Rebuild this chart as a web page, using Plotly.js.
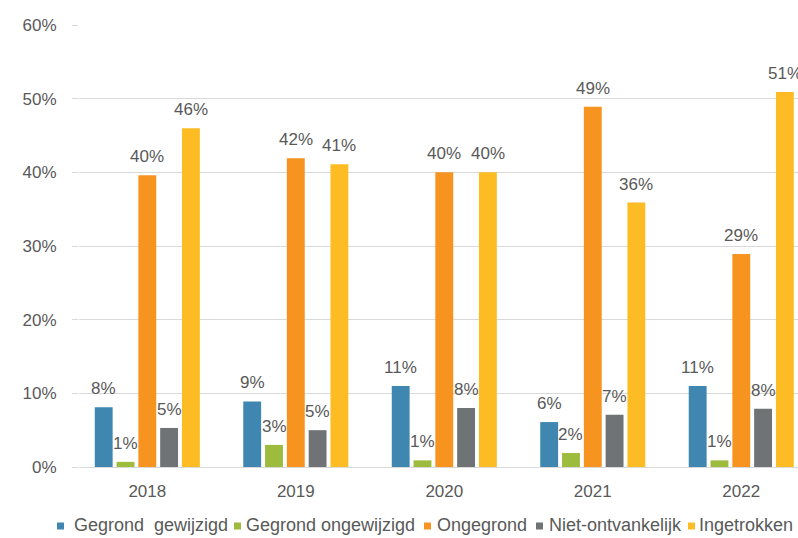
<!DOCTYPE html>
<html>
<head>
<meta charset="utf-8">
<script src="https://cdn.plot.ly/plotly-3.0.1.min.js"></script>
<style>
html,body{margin:0;padding:0;overflow:hidden;background:#fff;}
#chart{width:798px;height:538px;}
</style>
</head>
<body>
<div id="chart"></div>
<script>
const years = ['2018', '2019', '2020', '2021', '2022'];
const seriesNames = ['Gegrond  gewijzigd', 'Gegrond ongewijzigd', 'Ongegrond', 'Niet-ontvankelijk', 'Ingetrokken'];
const gegrondGewijzigd   = [8.1, 8.9, 11.0, 6.1, 11.0];
const gegrondOngewijzigd = [0.7, 3.0, 0.9, 1.9, 0.9];
const ongegrond          = [39.6, 41.9, 40.0, 48.9, 28.9];
const nietOntvankelijk   = [5.3, 5.0, 8.0, 7.1, 7.9];
const ingetrokken        = [46.0, 41.1, 40.0, 35.9, 50.9];
const seriesColors = ['#3f87b0', '#9dbb3c', '#f7931f', '#6f7376', '#fdbc24'];
const yTickVals = [0, 10, 20, 30, 40, 50, 60];
const yTickText = ['0%', '10%', '20%', '30%', '40%', '50%', '60%'];

const allSeries = [gegrondGewijzigd, gegrondOngewijzigd, ongegrond, nietOntvankelijk, ingetrokken];
const FONT = 'Liberation Sans, Arial, sans-serif';
const TXT = '#595959';

// layout geometry
const W = 798, H = 538;
const M = {l: 79, r: 0, t: 25, b: 71};
const xRange = [-0.46, 4.382];
const BARGAP = 0.266, BARGROUPGAP = 0.18;
const plotW = W - M.l - M.r, plotH = H - M.t - M.b;
const catPx = plotW / (xRange[1] - xRange[0]);
const slotPx = catPx * (1 - BARGAP) / allSeries.length;

const traces = allSeries.map((vals, i) => ({
  type: 'bar',
  name: seriesNames[i],
  x: years,
  y: vals,
  marker: {color: seriesColors[i], line: {width: 0}},
  hoverinfo: 'none',
  showlegend: false
}));

const annotations = [];
// data labels, positioned through the axes' scales
allSeries.forEach((vals, i) => {
  vals.forEach((v, j) => {
    annotations.push({
      xref: 'x', yref: 'y', x: j, y: v,
      xshift: (i - (allSeries.length - 1) / 2) * slotPx,
      yshift: 7,
      xanchor: 'center', yanchor: 'bottom',
      text: Math.round(v) + '%',
      showarrow: false,
      font: {family: FONT, size: 17, color: TXT}
    });
  });
});

// legend (drawn manually to match the compact legend of the reference)
const legendSquareX = [57, 234, 424, 536, 688];
const legendTextX   = [72, 244, 435, 547, 697];
const legendY = 525;
const pxX = px => (px - M.l) / plotW;
const pxY = py => (M.t + plotH - py) / plotH;
const shapes = [];
seriesNames.forEach((name, i) => {
  shapes.push({
    type: 'rect', xref: 'paper', yref: 'paper',
    x0: pxX(legendSquareX[i]), x1: pxX(legendSquareX[i] + 7),
    y0: pxY(legendY + 4.5), y1: pxY(legendY - 2.5),
    fillcolor: seriesColors[i], line: {width: 0}
  });
  annotations.push({
    xref: 'paper', yref: 'paper',
    x: pxX(legendTextX[i]), y: pxY(legendY),
    xanchor: 'left', yanchor: 'middle',
    text: name.replace(/  /g, ' &nbsp;'),
    showarrow: false,
    font: {family: FONT, size: 18, color: TXT}
  });
});

const layout = {
  width: W,
  height: H,
  margin: M,
  paper_bgcolor: '#ffffff',
  plot_bgcolor: '#ffffff',
  font: {family: FONT, size: 17, color: TXT},
  barmode: 'group',
  bargap: BARGAP,
  bargroupgap: BARGROUPGAP,
  showlegend: false,
  annotations: annotations,
  shapes: shapes,
  xaxis: {
    type: 'category',
    range: xRange,
    showgrid: false,
    showline: true,
    linecolor: '#d9d9d9',
    linewidth: 1,
    ticks: '',
    ticklabelstandoff: 9,
    tickfont: {family: FONT, size: 17, color: TXT},
    fixedrange: true
  },
  yaxis: {
    range: [0, 60],
    tickvals: yTickVals,
    ticktext: yTickText,
    showgrid: true,
    gridcolor: '#d9d9d9',
    gridwidth: 1,
    zeroline: false,
    showline: false,
    ticks: 'outside',
    ticklen: 6,
    tickcolor: '#d9d9d9',
    ticklabelstandoff: 12,
    tickfont: {family: FONT, size: 17, color: TXT},
    fixedrange: true
  }
};

Plotly.newPlot('chart', traces, layout, {displayModeBar: false, staticPlot: true});
</script>
</body>
</html>
